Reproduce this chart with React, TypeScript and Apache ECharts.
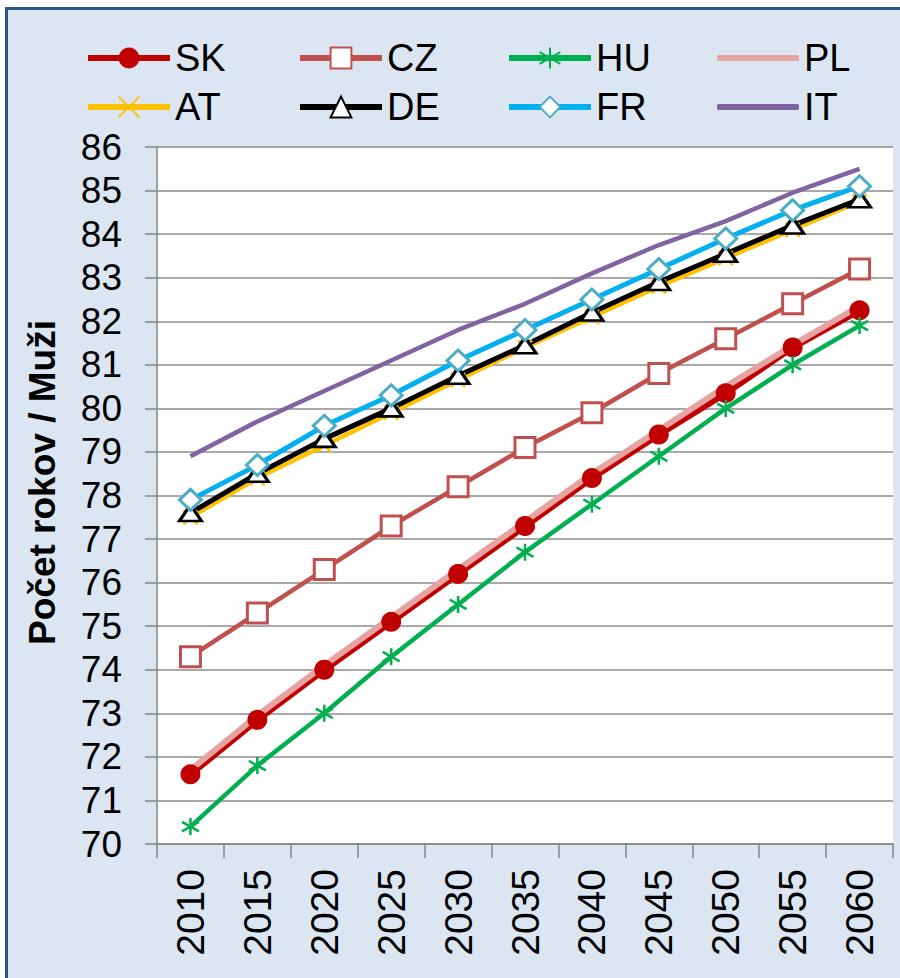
import React, { useEffect, useRef } from "react";
import * as echarts from "echarts";

const years = ["2010", "2015", "2020", "2025", "2030", "2035", "2040", "2045", "2050", "2055", "2060"];
const SK = [71.6, 72.85, 74.0, 75.1, 76.2, 77.3, 78.4, 79.4, 80.35, 81.4, 82.25];
const CZ = [74.3, 75.3, 76.3, 77.3, 78.2, 79.1, 79.9, 80.8, 81.6, 82.4, 83.2];
const HU = [70.4, 71.8, 73.0, 74.3, 75.5, 76.7, 77.8, 78.9, 80.0, 81.0, 81.9];
const PL = [71.7, 72.95, 74.1, 75.2, 76.3, 77.4, 78.5, 79.5, 80.5, 81.45, 82.35];
const AT = [77.5, 78.4, 79.15, 79.9, 80.65, 81.4, 82.1, 82.8, 83.45, 84.1, 84.75];
const DE = [77.6, 78.5, 79.3, 80.0, 80.75, 81.45, 82.2, 82.9, 83.55, 84.2, 84.8];
const FR = [77.9, 78.7, 79.6, 80.3, 81.1, 81.8, 82.5, 83.2, 83.9, 84.55, 85.1];
const IT = [78.9, 79.7, 80.4, 81.1, 81.8, 82.4, 83.1, 83.75, 84.3, 84.95, 85.5];

const yMin = 70;
const yMax = 86;
const yStep = 1;
const yTitle = "Počet rokov / Muži";

const FONT = 'Arial, "Liberation Sans", sans-serif';
const ASTERISK = "path://M5,0L5,10M0.6,2.2L9.4,7.8M9.4,2.2L0.6,7.8";
const CROSS = "path://M0,0L10,10M10,0L0,10";

export default function App() {
  const ref = useRef<HTMLDivElement>(null);
  useEffect(() => {
    if (!ref.current) return;
    const chart = echarts.init(ref.current, undefined, { renderer: "svg" });

    const seriesDefs = [
      { name: "SK", data: SK, color: "#c00000", width: 6.5, symbol: "circle", size: 20, item: { color: "#c00000" } },
      { name: "CZ", data: CZ, color: "#c0504d", width: 4.5, symbol: "rect", size: 20, item: { color: "#ffffff", borderColor: "#c0504d", borderWidth: 3 } },
      { name: "HU", data: HU, color: "#00b050", width: 4.5, symbol: ASTERISK, size: 17, item: { color: "none", borderColor: "#00b050", borderWidth: 2.5 } },
      { name: "PL", data: PL, color: "#e6a3a2", width: 6, symbol: "none", size: 0, item: { color: "#e6a3a2" } },
      { name: "AT", data: AT, color: "#ffc000", width: 4.5, symbol: CROSS, size: 14, item: { color: "none", borderColor: "#ffc000", borderWidth: 2.5 } },
      { name: "DE", data: DE, color: "#000000", width: 5, symbol: "triangle", size: [22, 16], item: { color: "#ffffff", borderColor: "#000000", borderWidth: 3 } },
      { name: "FR", data: FR, color: "#00b0f0", width: 5, symbol: "diamond", size: [22, 21], item: { color: "#ffffff", borderColor: "#4bacc6", borderWidth: 3 } },
      { name: "IT", data: IT, color: "#8064a2", width: 4.5, symbol: "none", size: 0, item: { color: "#8064a2" } },
    ];

    const legendPos = [
      [85, 39], [297, 39], [506, 39], [717, 39],
      [85, 88], [297, 88], [506, 88], [717, 88],
    ];

    const legends = seriesDefs.map((s, i) => {
      const noSym = s.symbol === "none";
      return {
        data: [noSym ? { name: s.name, icon: "roundRect" } : { name: s.name }],
        left: legendPos[i][0],
        top: legendPos[i][1],
        padding: 0,
        itemWidth: 82,
        itemHeight: noSym ? 6 : 26,
        selectedMode: false,
        lineStyle: { width: 6 },
        textStyle: { fontSize: 38, color: "#000", fontFamily: FONT },
      };
    });

    chart.setOption({
      animation: false,
      backgroundColor: "transparent",
      textStyle: { fontFamily: FONT },
      legend: legends,
      grid: {
        left: 157,
        top: 147,
        right: 7,
        bottom: 134,
        show: true,
        backgroundColor: "#ffffff",
        borderWidth: 0,
        containLabel: false,
      },
      xAxis: {
        type: "category",
        data: years,
        boundaryGap: true,
        axisLine: { show: true, lineStyle: { color: "#868686", width: 1.5 } },
        axisTick: { show: true, length: 14, alignWithLabel: false, lineStyle: { color: "#868686", width: 1.5 } },
        axisLabel: { rotate: 90, fontSize: 39, color: "#000", fontFamily: FONT, margin: 25, interval: 0 },
        splitLine: { show: false },
      },
      yAxis: {
        type: "value",
        min: yMin,
        max: yMax,
        interval: yStep,
        name: yTitle,
        nameLocation: "middle",
        nameRotate: 90,
        nameGap: 96,
        nameTextStyle: { fontSize: 37, fontWeight: "bold", color: "#000", fontFamily: FONT, padding: [0, 0, 0, 26] },
        axisLine: { show: true, lineStyle: { color: "#868686", width: 1.5 } },
        axisTick: { show: true, length: 12, lineStyle: { color: "#868686", width: 1.5 } },
        axisLabel: { fontSize: 37, color: "#000", fontFamily: FONT, margin: 35 },
        splitLine: { show: true, lineStyle: { color: "#8c8c8c", width: 1.5 } },
      },
      series: seriesDefs.map((s) => ({
        type: "line",
        name: s.name,
        data: s.data,
        color: s.color,
        symbol: s.symbol,
        symbolSize: s.size,
        showSymbol: s.symbol !== "none",
        lineStyle: { color: s.color, width: s.width },
        itemStyle: s.item,
        emphasis: { disabled: true },
        silent: true,
        z: 2,
      })),
    });
    return () => chart.dispose();
  }, []);

  return (
    <div style={{ position: "absolute", left: 0, top: 0, width: 900, height: 978, background: "#ffffff", overflow: "hidden" }}>
      <div
        style={{
          position: "absolute",
          left: 5,
          top: 7,
          width: 900,
          height: 978,
          borderLeft: "3px solid #2a5589",
          borderTop: "3px solid #2a5589",
          background: "#dce6f2",
        }}
      />
      <div ref={ref} style={{ position: "absolute", left: 0, top: 0, width: 900, height: 978 }} />
    </div>
  );
}
